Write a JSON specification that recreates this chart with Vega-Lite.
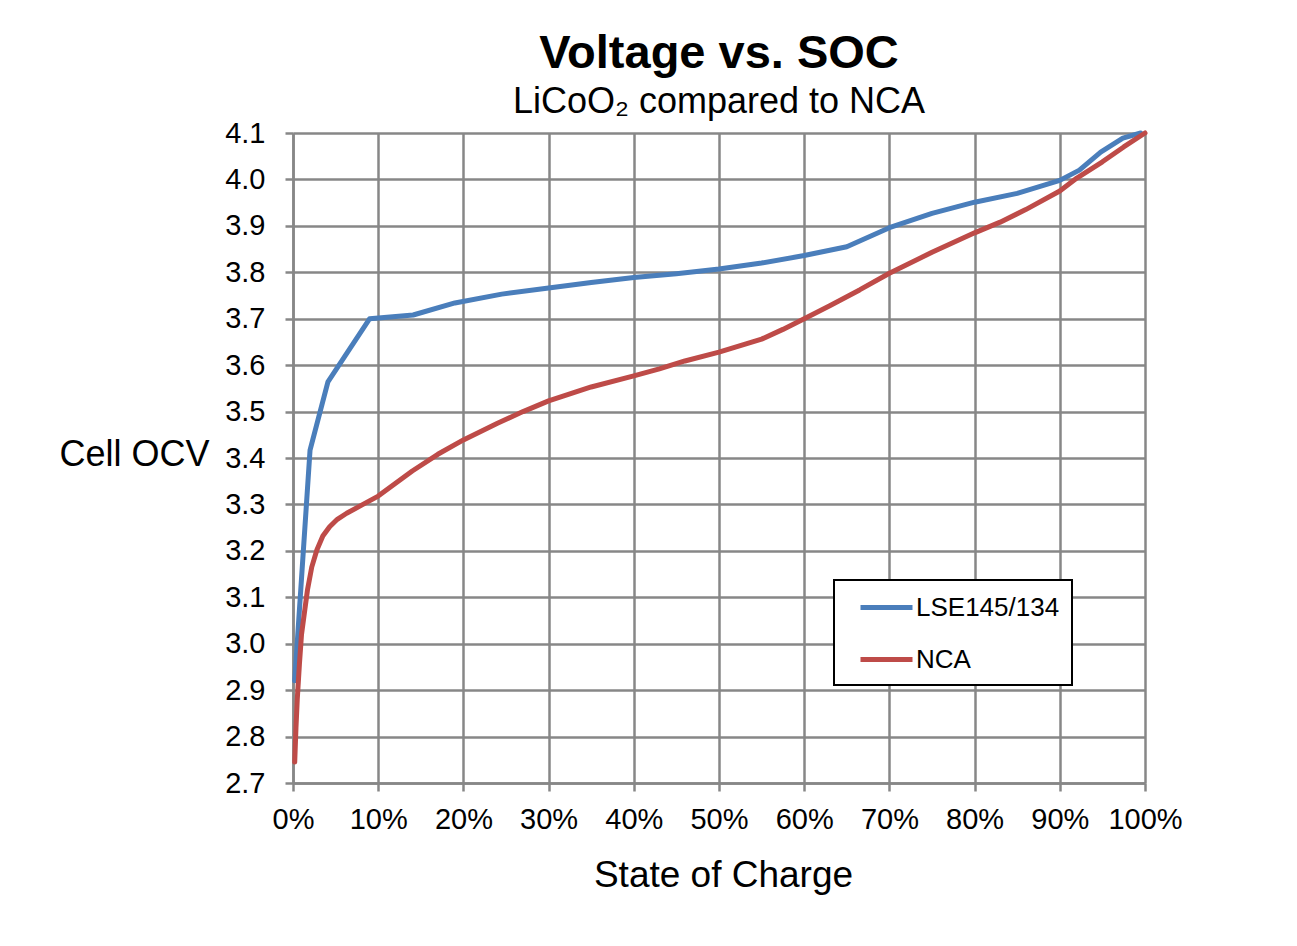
{
  "$schema": "https://vega.github.io/schema/vega-lite/v6.json",
  "width": 852,
  "height": 650,
  "autosize": "none",
  "padding": {"left": 293, "top": 133, "right": 152, "bottom": 163},
  "background": "white",
  "view": {"stroke": null},
  "title": {
    "text": "Voltage vs. SOC",
    "subtitle": "LiCoO₂ compared to NCA",
    "font": "Liberation Sans",
    "fontSize": 47,
    "fontWeight": "bold",
    "color": "black",
    "subtitleFont": "Liberation Sans",
    "subtitleFontSize": 36,
    "subtitleColor": "black",
    "anchor": "middle",
    "offset": -2,
    "subtitlePadding": 7
  },
  "data": {
    "values": [
      {"series": "LSE145/134", "soc": 0.2, "ocv": 2.92},
      {"series": "LSE145/134", "soc": 2.0, "ocv": 3.417},
      {"series": "LSE145/134", "soc": 4.1, "ocv": 3.564},
      {"series": "LSE145/134", "soc": 9.0, "ocv": 3.70},
      {"series": "LSE145/134", "soc": 14.1, "ocv": 3.708},
      {"series": "LSE145/134", "soc": 19.0, "ocv": 3.734},
      {"series": "LSE145/134", "soc": 24.5, "ocv": 3.753},
      {"series": "LSE145/134", "soc": 30, "ocv": 3.766},
      {"series": "LSE145/134", "soc": 35, "ocv": 3.778},
      {"series": "LSE145/134", "soc": 40, "ocv": 3.789},
      {"series": "LSE145/134", "soc": 45, "ocv": 3.797},
      {"series": "LSE145/134", "soc": 50, "ocv": 3.807},
      {"series": "LSE145/134", "soc": 55, "ocv": 3.82},
      {"series": "LSE145/134", "soc": 60, "ocv": 3.836},
      {"series": "LSE145/134", "soc": 65, "ocv": 3.855},
      {"series": "LSE145/134", "soc": 70, "ocv": 3.896},
      {"series": "LSE145/134", "soc": 75, "ocv": 3.927},
      {"series": "LSE145/134", "soc": 80, "ocv": 3.951},
      {"series": "LSE145/134", "soc": 85, "ocv": 3.97},
      {"series": "LSE145/134", "soc": 90, "ocv": 3.998},
      {"series": "LSE145/134", "soc": 92.3, "ocv": 4.02},
      {"series": "LSE145/134", "soc": 94.8, "ocv": 4.059},
      {"series": "LSE145/134", "soc": 97.4, "ocv": 4.089},
      {"series": "LSE145/134", "soc": 99.5, "ocv": 4.1},
      {"series": "NCA", "soc": 0.2, "ocv": 2.745},
      {"series": "NCA", "soc": 0.35, "ocv": 2.82},
      {"series": "NCA", "soc": 0.5, "ocv": 2.88},
      {"series": "NCA", "soc": 0.75, "ocv": 2.955},
      {"series": "NCA", "soc": 1.0, "ocv": 3.02},
      {"series": "NCA", "soc": 1.4, "ocv": 3.075},
      {"series": "NCA", "soc": 1.7, "ocv": 3.116},
      {"series": "NCA", "soc": 2.2, "ocv": 3.165},
      {"series": "NCA", "soc": 2.8, "ocv": 3.202},
      {"series": "NCA", "soc": 3.5, "ocv": 3.232},
      {"series": "NCA", "soc": 4.3, "ocv": 3.252},
      {"series": "NCA", "soc": 5.2, "ocv": 3.268},
      {"series": "NCA", "soc": 6.3, "ocv": 3.281},
      {"series": "NCA", "soc": 8, "ocv": 3.298},
      {"series": "NCA", "soc": 10, "ocv": 3.318},
      {"series": "NCA", "soc": 12, "ocv": 3.345},
      {"series": "NCA", "soc": 14, "ocv": 3.372},
      {"series": "NCA", "soc": 17, "ocv": 3.408},
      {"series": "NCA", "soc": 20, "ocv": 3.439},
      {"series": "NCA", "soc": 24, "ocv": 3.475},
      {"series": "NCA", "soc": 27, "ocv": 3.5},
      {"series": "NCA", "soc": 30, "ocv": 3.523},
      {"series": "NCA", "soc": 35, "ocv": 3.553},
      {"series": "NCA", "soc": 40, "ocv": 3.577},
      {"series": "NCA", "soc": 43, "ocv": 3.592},
      {"series": "NCA", "soc": 46, "ocv": 3.609},
      {"series": "NCA", "soc": 50, "ocv": 3.628},
      {"series": "NCA", "soc": 55, "ocv": 3.656},
      {"series": "NCA", "soc": 57.5, "ocv": 3.677},
      {"series": "NCA", "soc": 60, "ocv": 3.70},
      {"series": "NCA", "soc": 63, "ocv": 3.728},
      {"series": "NCA", "soc": 66.5, "ocv": 3.762},
      {"series": "NCA", "soc": 70, "ocv": 3.798},
      {"series": "NCA", "soc": 75, "ocv": 3.843},
      {"series": "NCA", "soc": 80, "ocv": 3.885},
      {"series": "NCA", "soc": 83, "ocv": 3.908},
      {"series": "NCA", "soc": 86, "ocv": 3.935},
      {"series": "NCA", "soc": 90, "ocv": 3.975},
      {"series": "NCA", "soc": 92, "ocv": 4.003},
      {"series": "NCA", "soc": 95, "ocv": 4.038},
      {"series": "NCA", "soc": 97.5, "ocv": 4.07},
      {"series": "NCA", "soc": 100, "ocv": 4.1}
    ]
  },
  "mark": {"type": "line", "strokeWidth": 5, "strokeJoin": "round", "strokeCap": "round"},
  "encoding": {
    "x": {
      "field": "soc",
      "type": "quantitative",
      "scale": {"domain": [0, 100], "nice": false, "zero": false},
      "axis": {
        "values": [0, 10, 20, 30, 40, 50, 60, 70, 80, 90, 100],
        "labelExpr": "datum.value + '%'",
        "labelFont": "Liberation Sans",
        "labelFontSize": 29,
        "labelColor": "black",
        "labelPadding": 14,
        "labelFlush": false,
        "labelOverlap": false,
        "tickSize": 8,
        "tickColor": "#878787",
        "tickWidth": 2.5,
        "domainColor": "#878787",
        "domainWidth": 2.5,
        "grid": true,
        "gridColor": "#878787",
        "gridWidth": 2.5,
        "gridOpacity": 1,
        "title": "State of Charge",
        "titleFont": "Liberation Sans",
        "titleFontSize": 37,
        "titleFontWeight": "normal",
        "titleColor": "black",
        "titleBaseline": "middle",
        "titleX": 430,
        "titleY": 92
      }
    },
    "y": {
      "field": "ocv",
      "type": "quantitative",
      "scale": {"domain": [2.7, 4.1], "nice": false, "zero": false},
      "axis": {
        "values": [2.7, 2.8, 2.9, 3.0, 3.1, 3.2, 3.3, 3.4, 3.5, 3.6, 3.7, 3.8, 3.9, 4.0, 4.1],
        "format": ".1f",
        "labelFont": "Liberation Sans",
        "labelFontSize": 29,
        "labelColor": "black",
        "labelPadding": 20,
        "labelFlush": false,
        "labelOverlap": false,
        "tickSize": 8,
        "tickColor": "#878787",
        "tickWidth": 2.5,
        "domainColor": "#878787",
        "domainWidth": 2.5,
        "grid": true,
        "gridColor": "#878787",
        "gridWidth": 2.5,
        "gridOpacity": 1,
        "title": "Cell OCV",
        "titleFont": "Liberation Sans",
        "titleFontSize": 36,
        "titleFontWeight": "normal",
        "titleColor": "black",
        "titleAngle": 0,
        "titleAlign": "right",
        "titleBaseline": "middle",
        "titleX": -84,
        "titleY": 321
      }
    },
    "color": {
      "field": "series",
      "type": "nominal",
      "scale": {"domain": ["LSE145/134", "NCA"], "range": ["#4A7EBB", "#BE4B48"]},
      "legend": {
        "orient": "none",
        "legendX": 541,
        "legendY": 447,
        "title": null,
        "symbolType": "M-2,0L2,0",
        "symbolSize": 676,
        "symbolStrokeWidth": 5,
        "labelFont": "Liberation Sans",
        "labelFontSize": 26,
        "labelColor": "black",
        "labelOffset": 14,
        "rowPadding": 23,
        "padding": 12,
        "symbolOffset": 25,
        "strokeColor": "black",
        "fillColor": "white",
        "encode": {"legend": {"update": {"strokeWidth": {"value": 2}}}}
      }
    }
  }
}
